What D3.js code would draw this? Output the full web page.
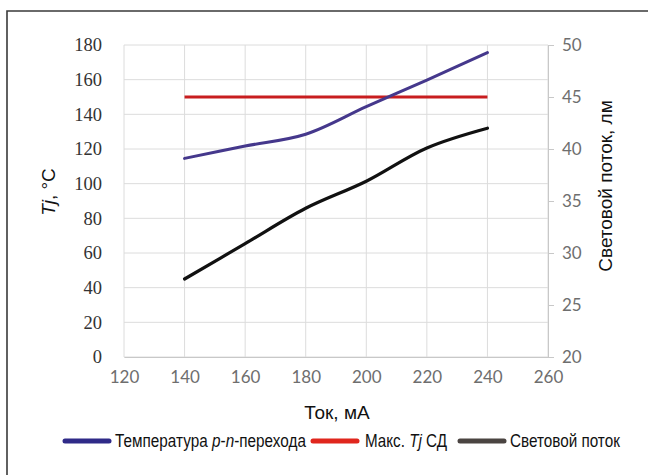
<!DOCTYPE html>
<html><head><meta charset="utf-8">
<script src="https://cdn.jsdelivr.net/npm/d3@7"></script>
<style>body{margin:0;background:#fff}svg{display:block}</style>
</head><body>
<script>
const currents = [140, 160, 180, 200, 220, 240];
const tjTemp = [114.6, 121.7, 128.5, 144.4, 159.8, 175.6];
const tjMax = [150, 150, 150, 150, 150, 150];
const flux = [27.5, 30.9, 34.3, 36.9, 40.1, 42.0];
const xTicks = [120, 140, 160, 180, 200, 220, 240, 260];
const yLeftTicks = [0, 20, 40, 60, 80, 100, 120, 140, 160, 180];
const yRightTicks = [20, 25, 30, 35, 40, 45, 50];
const legendLabels = ["Температура p-n-перехода", "Макс. Tj СД", "Световой поток"];

const W = 648, H = 475;
const L = 124, R = 548, T = 45, B = 357;
const svg = d3.select("body").append("svg").attr("width", W).attr("height", H);
svg.append("rect").attr("width", W).attr("height", H).attr("fill", "#fff");
svg.append("path").attr("d", `M7,${H}V11H${W}`).attr("fill", "none").attr("stroke", "#3a3a3a").attr("stroke-width", 1.6);

const x = d3.scaleLinear().domain([120, 260]).range([L, R]);
const yL = d3.scaleLinear().domain([0, 180]).range([B, T]);
const yR = d3.scaleLinear().domain([20, 50]).range([B, T]);

const g = svg.append("g");
g.selectAll(".hg").data(yLeftTicks).join("line")
  .attr("x1", L).attr("x2", R).attr("y1", d => yL(d)).attr("y2", d => yL(d))
  .attr("stroke", "#dcdcdc").attr("stroke-width", 1);
g.selectAll(".vg").data(xTicks).join("line")
  .attr("x1", d => x(d)).attr("x2", d => x(d)).attr("y1", T).attr("y2", B)
  .attr("stroke", "#dcdcdc").attr("stroke-width", 1);

const axL = svg.append("g").attr("transform", `translate(${L},0)`)
  .call(d3.axisLeft(yL).tickValues(yLeftTicks).tickSize(0).tickPadding(22));
axL.select(".domain").remove();
axL.selectAll("text").attr("font-family", "'Liberation Serif', 'DejaVu Serif', serif")
  .attr("font-size", 18.5).attr("fill", "#333");

const axB = svg.append("g").attr("transform", `translate(0,${B})`)
  .call(d3.axisBottom(x).tickValues(xTicks).tickSize(0).tickPadding(14));
axB.select(".domain").attr("stroke", "#c8c8c8");
axB.selectAll("text").attr("font-family", "Lato, 'Open Sans', sans-serif")
  .attr("font-size", 17).attr("fill", "#6e6e6e");

const axR = svg.append("g").attr("transform", `translate(${R},0)`)
  .call(d3.axisRight(yR).tickValues(yRightTicks).tickSize(6).tickPadding(8));
axR.select(".domain").attr("stroke", "#c8c8c8");
axR.selectAll(".tick line").attr("stroke", "#c8c8c8");
axR.selectAll("text").attr("font-family", "Lato, 'Open Sans', sans-serif")
  .attr("font-size", 17).attr("fill", "#6e6e6e");

const mk = (arr, ys) => d3.line().x((d, i) => x(currents[i])).y(d => ys(d)).curve(d3.curveCatmullRom.alpha(0.5))(arr);
svg.append("path").attr("d", mk(tjMax, yL)).attr("fill", "none").attr("stroke", "#c81d1f").attr("stroke-width", 3);
svg.append("path").attr("d", mk(tjTemp, yL)).attr("fill", "none").attr("stroke", "#45388c").attr("stroke-width", 3).attr("stroke-linecap", "round");
svg.append("path").attr("d", mk(flux, yR)).attr("fill", "none").attr("stroke", "#111").attr("stroke-width", 3.2).attr("stroke-linecap", "round");

const tl = svg.append("text").attr("transform", "translate(55,192) rotate(-90)")
  .attr("text-anchor", "middle").attr("font-family", "'Liberation Sans', Arial, sans-serif").attr("font-size", 19).attr("fill", "#111");
tl.append("tspan").attr("font-style", "italic").text("Tj");
tl.append("tspan").text(", °C");
svg.append("text").attr("transform", "translate(612,186) rotate(-90)")
  .attr("text-anchor", "middle").attr("font-family", "'Liberation Sans', Arial, sans-serif").attr("font-size", 19).attr("fill", "#111")
  .text("Световой поток, лм");
svg.append("text").attr("x", 337).attr("y", 419).attr("text-anchor", "middle")
  .attr("font-family", "'Liberation Sans', Arial, sans-serif").attr("font-size", 19).attr("fill", "#111").text("Ток, мА");

// legend
const legColors = ["#2f2a88", "#e0261d", "#4a4441"];
const legItems = [
  {x1: 65, x2: 109, tx: 115, tw: 191},
  {x1: 313, x2: 357, tx: 365, tw: 82},
  {x1: 460, x2: 504, tx: 510, tw: 110}
];
const ly = 441;
legItems.forEach((it, i) => {
  svg.append("line").attr("x1", it.x1).attr("x2", it.x2).attr("y1", ly).attr("y2", ly)
    .attr("stroke", legColors[i]).attr("stroke-width", 5).attr("stroke-linecap", "round");
  const grp = svg.append("g").attr("transform", `translate(${it.tx},${ly + 6})`);
  const t = grp.append("text")
    .attr("font-family", "'Liberation Sans', Arial, sans-serif").attr("font-size", 17.5).attr("fill", "#111");
  if (i === 0) {
    t.append("tspan").text("Температура ");
    t.append("tspan").attr("font-style", "italic").text("p");
    t.append("tspan").text("-");
    t.append("tspan").attr("font-style", "italic").text("n");
    t.append("tspan").text("-перехода");
  } else if (i === 1) {
    t.append("tspan").text("Макс. ");
    t.append("tspan").attr("font-style", "italic").text("Tj");
    t.append("tspan").text(" СД");
  } else {
    t.text(legendLabels[2]);
  }
  const w = t.node().getComputedTextLength();
  grp.attr("transform", `translate(${it.tx},${ly + 6}) scale(${it.tw / w},1)`);
});
</script>
</body></html>
